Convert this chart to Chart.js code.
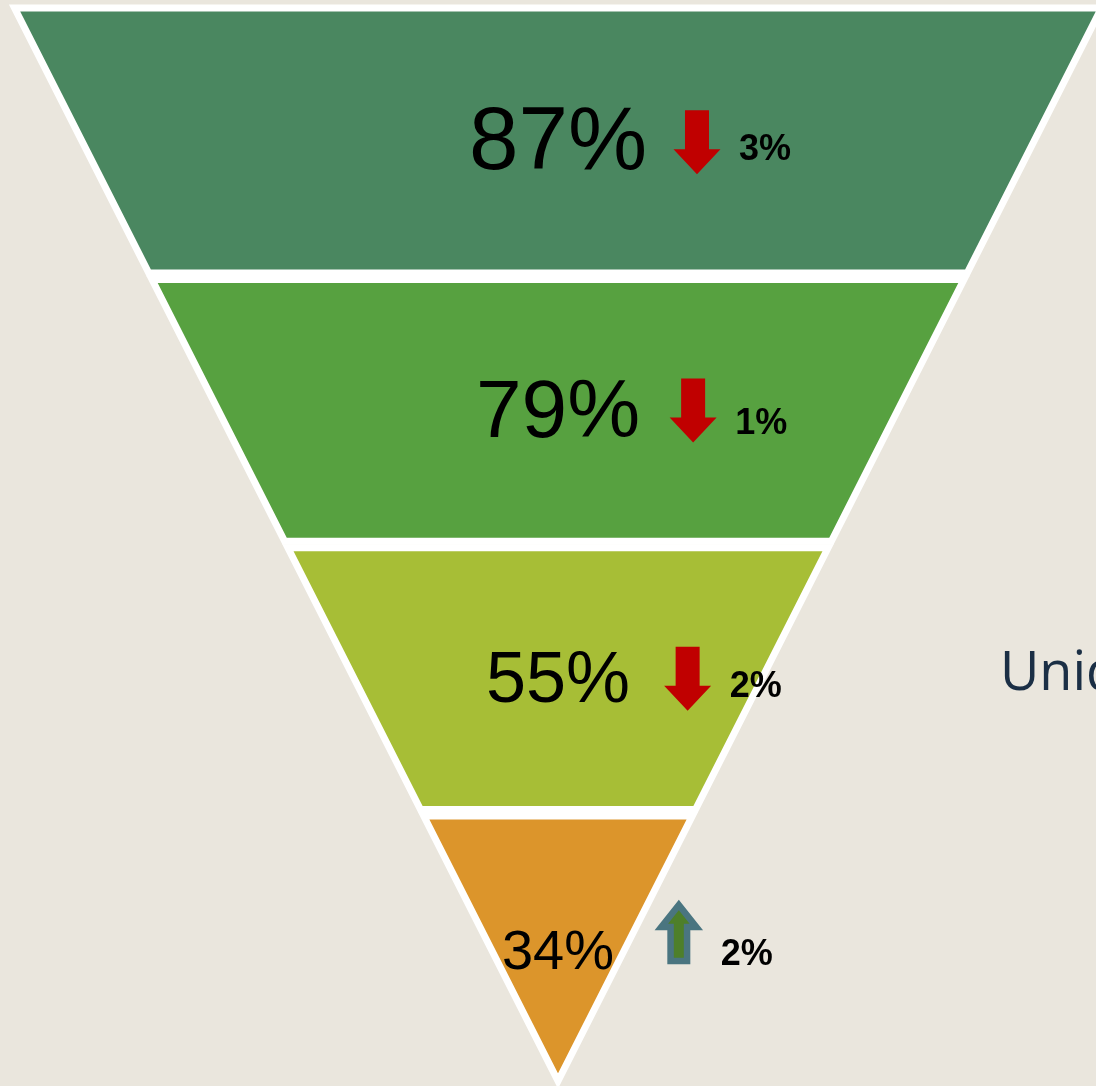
<!DOCTYPE html>
<html><head><meta charset="utf-8">
<script src="https://cdn.jsdelivr.net/npm/chart.js@4.4.1/dist/chart.umd.min.js"></script>
<style>html,body{margin:0;padding:0;background:#EAE6DD;overflow:hidden}
#wrap{width:1096px;height:1086px;position:relative}</style>
</head><body><div id="wrap"><canvas id="c" width="1096" height="1086"></canvas></div>
<script>
// ---- data ----
const stages = ['Etapa 1', 'Etapa 2', 'Etapa 3', 'Etapa 4'];
const values = [87, 79, 55, 34];
const changes = [3, 1, 2, 2];
const directions = ['down', 'down', 'down', 'up'];
const sideLabel = 'Unid';

// ---- styles ----
const stageColors = ['#4A8760', '#57A140', '#A7BE36', '#DC952B'];
const labelSizes = [89, 82, 72, 56];
const labelNudge = [-2, 0, 0, 5];

const n = values.length;
const gap = 0.024;
function segmentPoints(i) {
  const top = i === 0 ? 0 : i + gap / 2;
  const bot = i === n - 1 ? n : i + 1 - gap / 2;
  const wt = n - top, wb = n - bot;
  const p = [{x: -wt, y: top}, {x: wt, y: top}, {x: wb, y: bot}, {x: -wb, y: bot}];
  return [...p, p[0], p[1]];
}

const datasets = stages.map((s, i) => ({
  label: s,
  data: segmentPoints(i),
  showLine: true,
  fill: 'shape',
  backgroundColor: stageColors[i],
  borderColor: '#FFFFFF',
  borderWidth: 7,
  borderJoinStyle: 'miter',
  pointRadius: 0,
  pointHoverRadius: 0,
  tension: 0,
  clip: false
}));

function drawArrow(ctx, cx, cy, dir) {
  ctx.save();
  let H, W, SW, HH;
  if (dir === 'up') { H = 56; W = 35; SW = 16.5; HH = 22; }
  else { H = 64; W = 47; SW = 24; HH = 25; }
  const s = dir === 'up' ? -1 : 1;
  const tail = cy - s * H / 2;
  const tip = cy + s * H / 2;
  const neck = tip - s * HH;
  ctx.beginPath();
  ctx.moveTo(cx - SW / 2, tail);
  ctx.lineTo(cx + SW / 2, tail);
  ctx.lineTo(cx + SW / 2, neck);
  ctx.lineTo(cx + W / 2, neck);
  ctx.lineTo(cx, tip);
  ctx.lineTo(cx - W / 2, neck);
  ctx.lineTo(cx - SW / 2, neck);
  ctx.closePath();
  if (dir === 'up') {
    ctx.fillStyle = '#4E7F2A';
    ctx.fill();
    ctx.lineJoin = 'miter';
    ctx.lineWidth = 6.5;
    ctx.strokeStyle = '#4A7580';
    ctx.stroke();
  } else {
    ctx.fillStyle = '#C00000';
    ctx.fill();
  }
  ctx.restore();
}

const labelPlugin = {
  id: 'funnelLabels',
  afterDatasetsDraw(chart) {
    const {ctx, scales: {x, y}} = chart;
    const cx = x.getPixelForValue(0);
    values.forEach((v, i) => {
      const cy = y.getPixelForValue(i + 0.5);
      const size = labelSizes[i];
      const txt = v + '%';
      ctx.save();
      ctx.fillStyle = '#000000';
      ctx.font = size + 'px "Liberation Sans", Arial, sans-serif';
      ctx.textAlign = 'center';
      ctx.textBaseline = 'alphabetic';
      ctx.fillText(txt, cx, cy + 0.36 * size - 3 + labelNudge[i]);
      const w = ctx.measureText(txt).width;
      const ax = cx + 0.55 * (w / 2) + 90;
      const ay = directions[i] === 'up' ? cy - 14 : cy;
      drawArrow(ctx, ax, ay, directions[i]);
      ctx.fillStyle = '#000000';
      ctx.font = 'bold 36px "Liberation Sans", Arial, sans-serif';
      ctx.textAlign = 'left';
      ctx.fillText(changes[i] + '%', ax + 42, cy + 18 + (i === 1 ? 6 : 0));
      ctx.restore();
    });
    ctx.save();
    ctx.fillStyle = '#1B2F45';
    ctx.font = '54px "Open Sans", "Noto Sans", sans-serif';
    ctx.textAlign = 'left';
    ctx.textBaseline = 'alphabetic';
    ctx.fillText(sideLabel, 1000, 690);
    ctx.restore();
  }
};

new Chart(document.getElementById('c'), {
  type: 'scatter',
  data: {datasets},
  options: {
    responsive: false,
    animation: false,
    events: [],
    layout: {padding: {top: 8, bottom: 5, left: 20, right: 0}},
    scales: {
      x: {type: 'linear', min: -3.96, max: 3.96, display: false},
      y: {type: 'linear', min: 0, max: n, reverse: true, display: false}
    },
    plugins: {legend: {display: false}, tooltip: {enabled: false}, title: {display: false}}
  },
  plugins: [labelPlugin]
});
</script>
</body></html>
